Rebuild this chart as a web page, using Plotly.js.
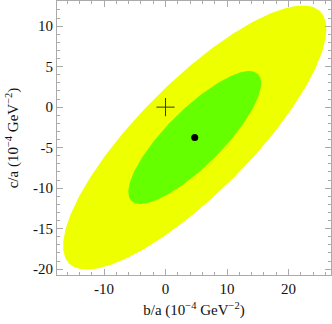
<!DOCTYPE html>
<html><head><meta charset="utf-8">
<script src="https://cdn.plot.ly/plotly-3.0.1.min.js"></script>
<style>html,body{margin:0;padding:0;background:#fff}#c{width:332px;height:324px}</style>
</head><body><div id="c"></div>
<script>
// Best-fit point and reference (Standard Model) point
var bestFit = [4.75, -3.75];
var refPoint = [0, 0];
// Contour regions: half-widths in b/a and c/a, correlation
var regionNames = ["outer", "inner"];
var halfWidthB = [21.4, 10.8];
var halfWidthC = [16.3, 8.2];
var correlation = [0.82, 0.82];
var regionColors = ["#EEFF00", "#66FF00"];
var xTicks = [-10, 0, 10, 20];
var yTicks = [-20, -15, -10, -5, 0, 5, 10];

function ellipse(i) {
  var xs = [], ys = [];
  var d = Math.acos(correlation[i]);
  for (var k = 0; k <= 360; k++) {
    var t = k * Math.PI / 180;
    xs.push(bestFit[0] + halfWidthB[i] * Math.cos(t));
    ys.push(bestFit[1] + halfWidthC[i] * Math.cos(t - d));
  }
  return {x: xs, y: ys};
}

var traces = [];
for (var i = 0; i < regionNames.length; i++) {
  var e = ellipse(i);
  traces.push({type: 'scatter', mode: 'lines', x: e.x, y: e.y, fill: 'toself',
    fillcolor: regionColors[i], line: {width: 0, color: regionColors[i]},
    hoverinfo: 'skip', showlegend: false, name: regionNames[i]});
}
traces.push({type: 'scatter', mode: 'markers', x: [refPoint[0]], y: [refPoint[1]],
  marker: {symbol: 'cross-thin-open', size: 13, line: {width: 1, color: '#333'}, color: '#333'},
  showlegend: false});
traces.push({type: 'scatter', mode: 'markers', x: [bestFit[0]], y: [bestFit[1]],
  marker: {symbol: 'circle', size: 7, color: '#000'}, showlegend: false});

var axisCommon = {
  showgrid: false, zeroline: false, showline: true, linecolor: '#aaa', linewidth: 1,
  mirror: 'allticks', ticks: 'inside', ticklen: 6, tickcolor: '#aaa', tickwidth: 1,
  tickfont: {family: 'Liberation Serif', size: 15, color: '#111'}
};

var layout = {
  width: 332, height: 324,
  margin: {l: 57, r: 1, t: 1, b: 49},
  paper_bgcolor: '#fff', plot_bgcolor: '#fff',
  xaxis: Object.assign({}, axisCommon, {
    range: [-17.64, 26.9], tickvals: xTicks, ticktext: xTicks.map(String),
    minor: {dtick: 2, tick0: 0, ticks: 'inside', ticklen: 3, tickcolor: '#aaa'},
    title: {text: 'b/a (10<sup>\u22124</sup> GeV<sup>\u22122</sup>)', standoff: 8,
      font: {family: 'Liberation Serif', size: 15, color: '#111'}}
  }),
  yaxis: Object.assign({}, axisCommon, {
    range: [-20.72, 13.1], tickvals: yTicks, ticktext: yTicks.map(String),
    minor: {dtick: 1, tick0: 0, ticks: 'inside', ticklen: 3, tickcolor: '#aaa'},
    title: {text: 'c/a (10<sup>\u22124</sup> GeV<sup>\u22122</sup>)', standoff: 10,
      font: {family: 'Liberation Serif', size: 15, color: '#111'}}
  })
};

Plotly.newPlot('c', traces, layout, {staticPlot: true, displayModeBar: false});
</script>
</body></html>
